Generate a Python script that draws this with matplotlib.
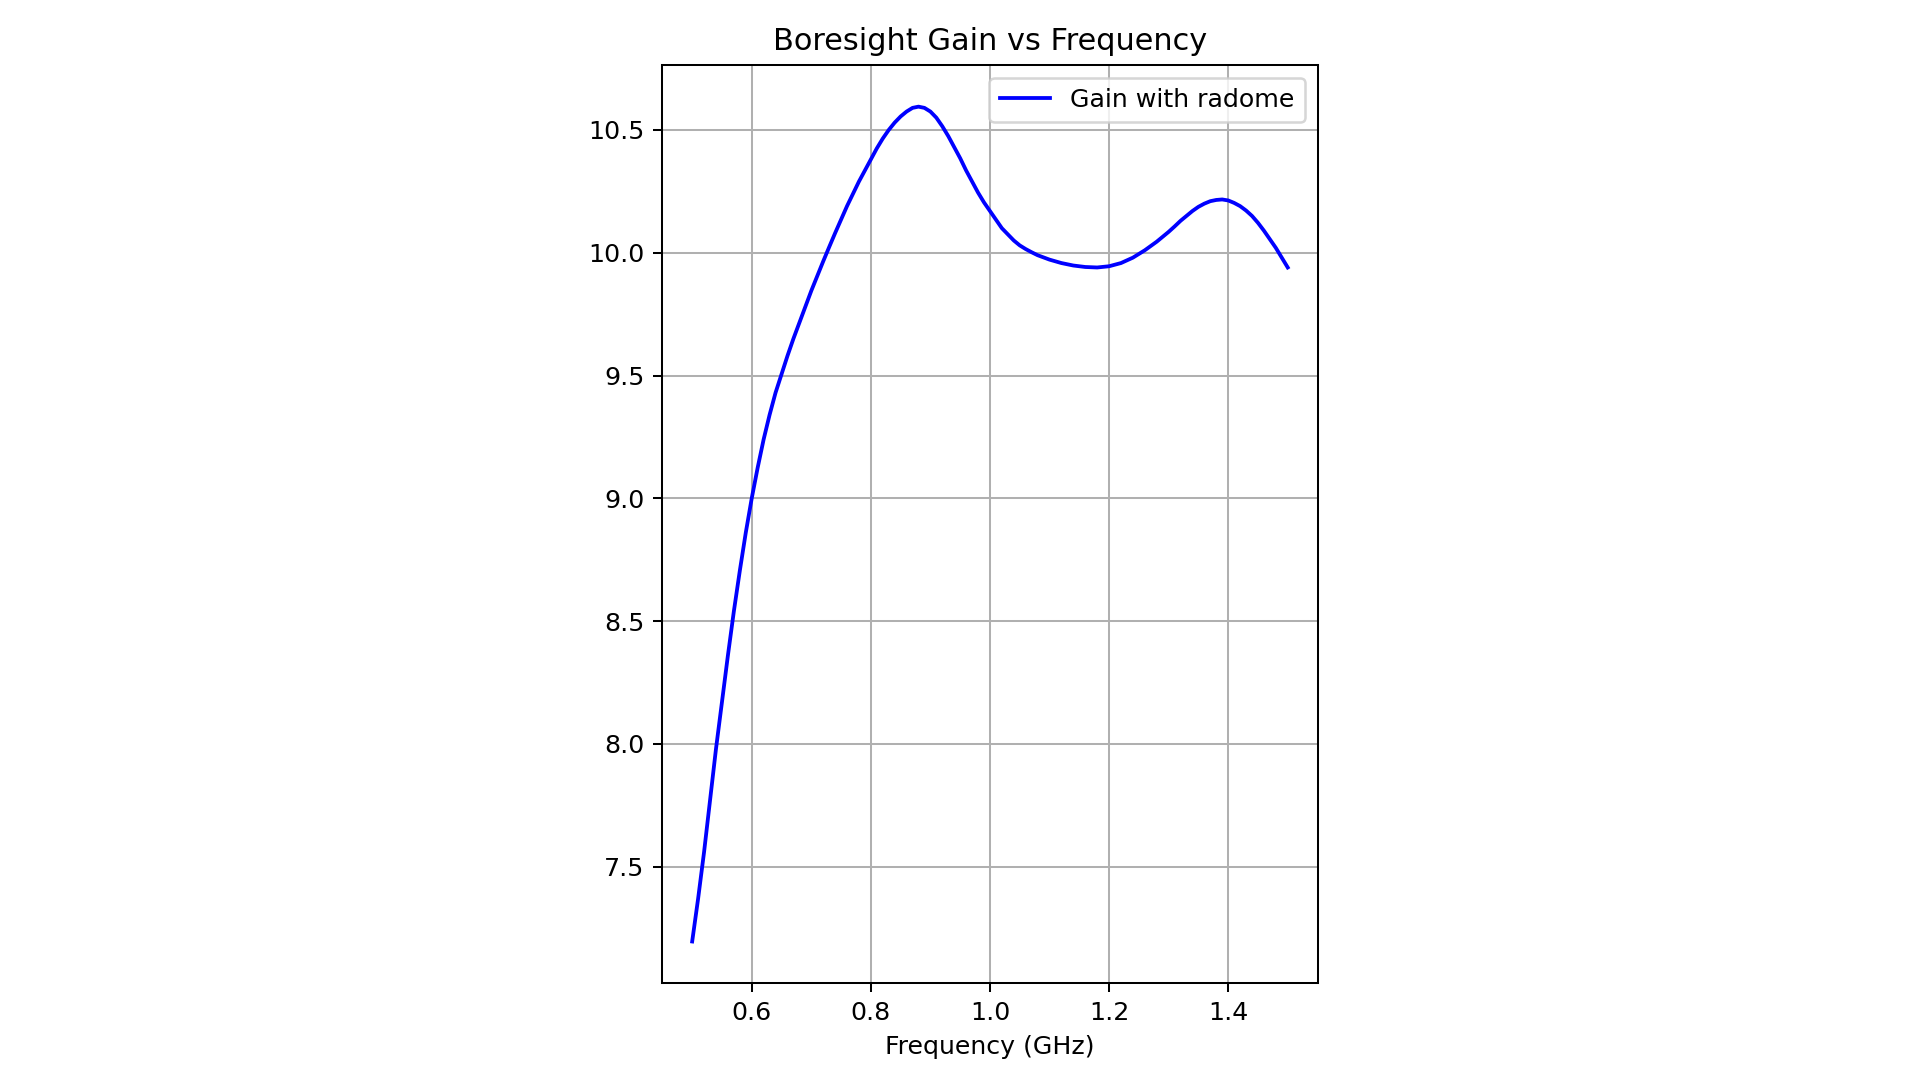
import matplotlib
matplotlib.use('Agg')
import matplotlib.pyplot as plt

# Boresight gain (GHz, dBi)
freq_ghz = [0.50, 0.51, 0.52, 0.53, 0.54, 0.55, 0.56, 0.57, 0.58, 0.59,
            0.60, 0.61, 0.62, 0.63, 0.64, 0.65, 0.66, 0.67, 0.68, 0.69,
            0.70, 0.71, 0.72, 0.73, 0.74, 0.75, 0.76, 0.77, 0.78, 0.79,
            0.80, 0.81, 0.82, 0.83, 0.84, 0.85, 0.86, 0.87, 0.88, 0.89,
            0.90, 0.91, 0.92, 0.93, 0.94, 0.95, 0.96, 0.97, 0.98, 0.99,
            1.00, 1.01, 1.02, 1.03, 1.04, 1.05, 1.06, 1.07, 1.08,
            1.10, 1.12, 1.14, 1.16, 1.18, 1.20, 1.22, 1.24, 1.26, 1.28,
            1.30, 1.31, 1.32, 1.33, 1.34, 1.35, 1.36, 1.37, 1.38, 1.39,
            1.40, 1.41, 1.42, 1.43, 1.44, 1.45, 1.46, 1.47, 1.48, 1.49,
            1.50]
gain_db = [7.195, 7.37, 7.56, 7.77, 7.98, 8.17, 8.36, 8.54, 8.705, 8.86,
           9.00, 9.125, 9.24, 9.34, 9.43, 9.505, 9.58, 9.65, 9.715, 9.78,
           9.845, 9.905, 9.965, 10.023, 10.08, 10.135, 10.19, 10.24, 10.29, 10.335,
           10.38, 10.425, 10.465, 10.50, 10.53, 10.555, 10.575, 10.59, 10.595, 10.59,
           10.575, 10.55, 10.515, 10.475, 10.43, 10.385, 10.335, 10.29, 10.245, 10.205,
           10.17, 10.135, 10.10, 10.075, 10.05, 10.03, 10.015, 10.002, 9.99,
           9.972, 9.958, 9.948, 9.942, 9.94, 9.945, 9.958, 9.98, 10.01, 10.045,
           10.085, 10.107, 10.13, 10.15, 10.17, 10.187, 10.20, 10.21, 10.215, 10.217,
           10.213, 10.203, 10.19, 10.172, 10.15, 10.122, 10.09, 10.055, 10.02, 9.98,
           9.94]

dpi = 182
fig = plt.figure(figsize=(1920 / dpi, 1080 / dpi), dpi=dpi)
ax = fig.add_axes([0.345, 0.0896, 0.3412, 0.8503])

ax.plot(freq_ghz, gain_db, color='blue', label='Gain with radome')
ax.set_title('Boresight Gain vs Frequency')
ax.set_xlabel('Frequency (GHz)')
ax.grid(True)
ax.legend(loc='upper right')

fig.savefig('out.png', dpi=dpi)
plt.close(fig)
